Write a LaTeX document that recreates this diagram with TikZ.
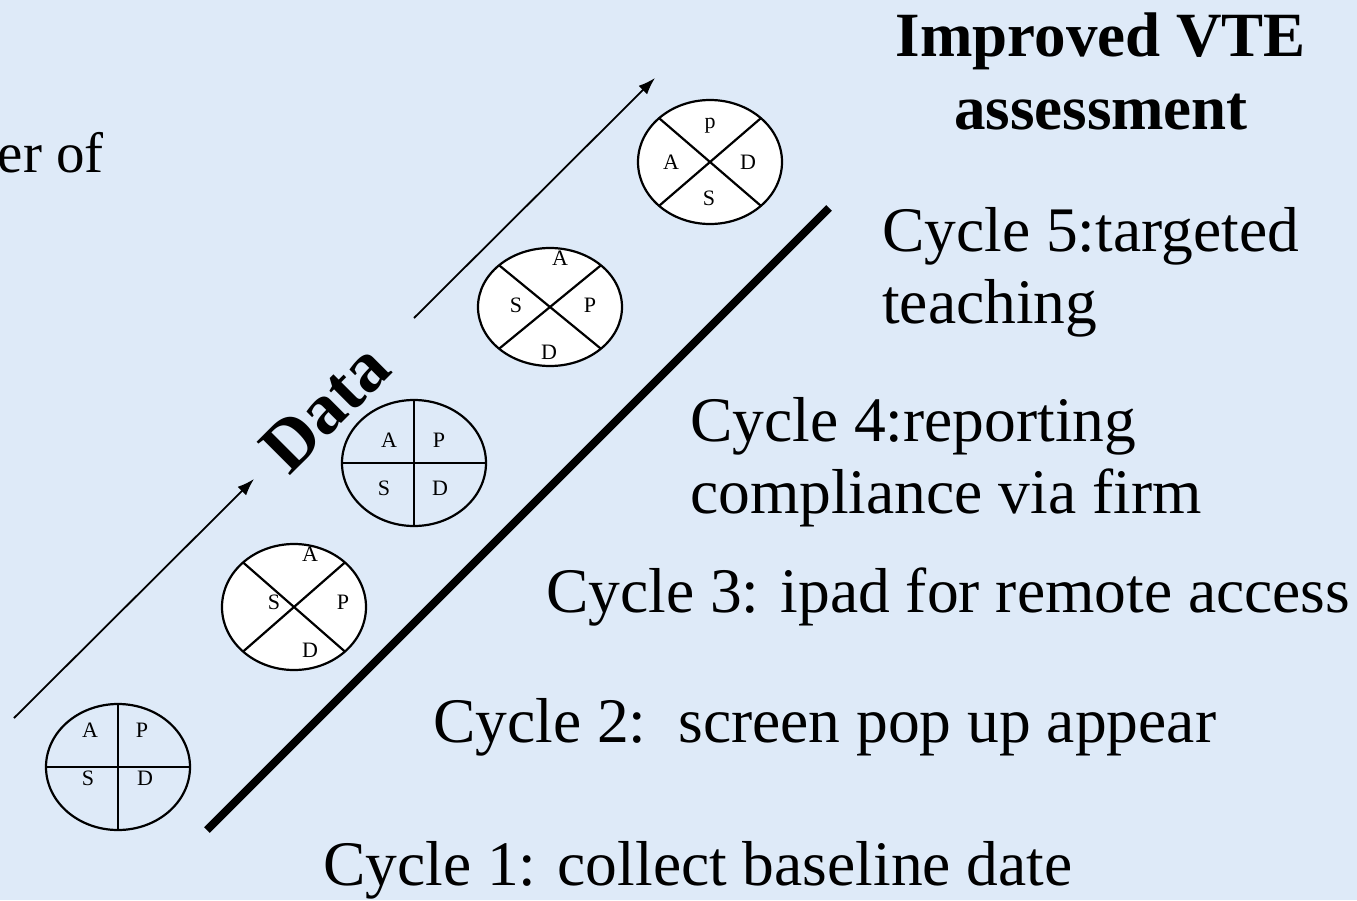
\documentclass[tikz,border=0pt]{standalone}
\usepackage{fontspec}
\setmainfont{Liberation Serif}
\usetikzlibrary{shapes.geometric,arrows.meta}
\definecolor{bgblue}{RGB}{222,234,248}
\tikzset{
	pdsa/.style={draw, ellipse, line width=2.2pt, inner sep=0pt, outer sep=0pt,
		minimum width=144pt, minimum height=126pt},
	pdsawhite/.style={pdsa, fill=white},
	quad/.style={inner sep=0pt, font=\fontsize{22}{24}\selectfont},
	cyclelabel/.style={anchor=base west, align=left, inner sep=0pt,
		font=\fontsize{63.5}{72}\selectfont},
	flow/.style={line width=1.8pt, -{Latex[length=17pt,width=12pt]}},
}
\begin{document}
\begin{tikzpicture}[x=1pt,y=-1pt]
	\fill[bgblue] (0,0) rectangle (1357,900);
	\useasboundingbox (0,0) rectangle (1357,900);
	% cycles
	\node[pdsa] (c1) at (118,767) {};
	\draw[line width=2.2pt] (c1.north) -- (c1.south) (c1.west) -- (c1.east);
	\node[quad] (c1a) at (90,730) {A};
	\node[quad] (c1p) at (142,730) {P};
	\node[quad] (c1s) at (88,778) {S};
	\node[quad] (c1d) at (145,778) {D};
	\node[pdsawhite] (c2) at (294,607) {};
	\draw[line width=2.2pt] (c2.north west) -- (c2.south east) (c2.north east) -- (c2.south west);
	\node[quad] (c2a) at (310,554) {A};
	\node[quad] (c2s) at (274,602) {S};
	\node[quad] (c2p) at (343,602) {P};
	\node[quad] (c2d) at (310,650) {D};
	\node[pdsa] (c3) at (414,463) {};
	\draw[line width=2.2pt] (c3.north) -- (c3.south) (c3.west) -- (c3.east);
	\node[quad] (c3a) at (389,440) {A};
	\node[quad] (c3p) at (439,440) {P};
	\node[quad] (c3s) at (384,488) {S};
	\node[quad] (c3d) at (440,488) {D};
	\node[pdsawhite, minimum height=118pt] (c4) at (550,307) {};
	\draw[line width=2.2pt] (c4.north west) -- (c4.south east) (c4.north east) -- (c4.south west);
	\node[quad] (c4a) at (560,258) {A};
	\node[quad] (c4s) at (516,305) {S};
	\node[quad] (c4p) at (590,305) {P};
	\node[quad] (c4d) at (549,352) {D};
	\node[pdsawhite, minimum height=124pt] (c5) at (710,162) {};
	\draw[line width=2.2pt] (c5.north west) -- (c5.south east) (c5.north east) -- (c5.south west);
	\node[quad] (c5p) at (710,126) {p};
	\node[quad] (c5a) at (671,162) {A};
	\node[quad] (c5d) at (748,162) {D};
	\node[quad] (c5s) at (709,198) {S};
	% data arrows
	\coordinate (in1) at (14,718);
	\coordinate (out1) at (254,479);
	\coordinate (in2) at (414,318);
	\coordinate (out2) at (655,78);
	\draw[flow] (in1) -- (out1);
	\draw[flow] (in2) -- (out2);
	\node[rotate=45, inner sep=0pt, font=\fontsize{72}{80}\selectfont\bfseries] (data) at (325,408) {Data};
	% staircase line
	\coordinate (low) at (207,830);
	\coordinate (high) at (829,208);
	\draw[line width=8pt] (low) -- (high);
	% texts
	\node[anchor=base east, inner sep=0pt, font=\fontsize{57}{66}\selectfont] (number) at (104,172) {ber of};
	\node[anchor=base, align=center, inner sep=0pt, font=\fontsize{63}{73}\selectfont\bfseries] (goal) at (1101,129) {Improved VTE\\assessment};
	\node[cyclelabel] (t5) at (882,323) {Cycle 5:targeted\\teaching};
	\node[cyclelabel] (t4) at (690,513) {Cycle 4:reporting\\compliance via firm};
	\node[cyclelabel] (t3) at (546,612) {Cycle 3: ipad for remote access};
	\node[cyclelabel] (t2) at (433,742) {Cycle 2:\ \ screen pop up appear};
	\node[cyclelabel] (t1) at (323,885) {Cycle 1: collect baseline date};
\end{tikzpicture}
\end{document}
